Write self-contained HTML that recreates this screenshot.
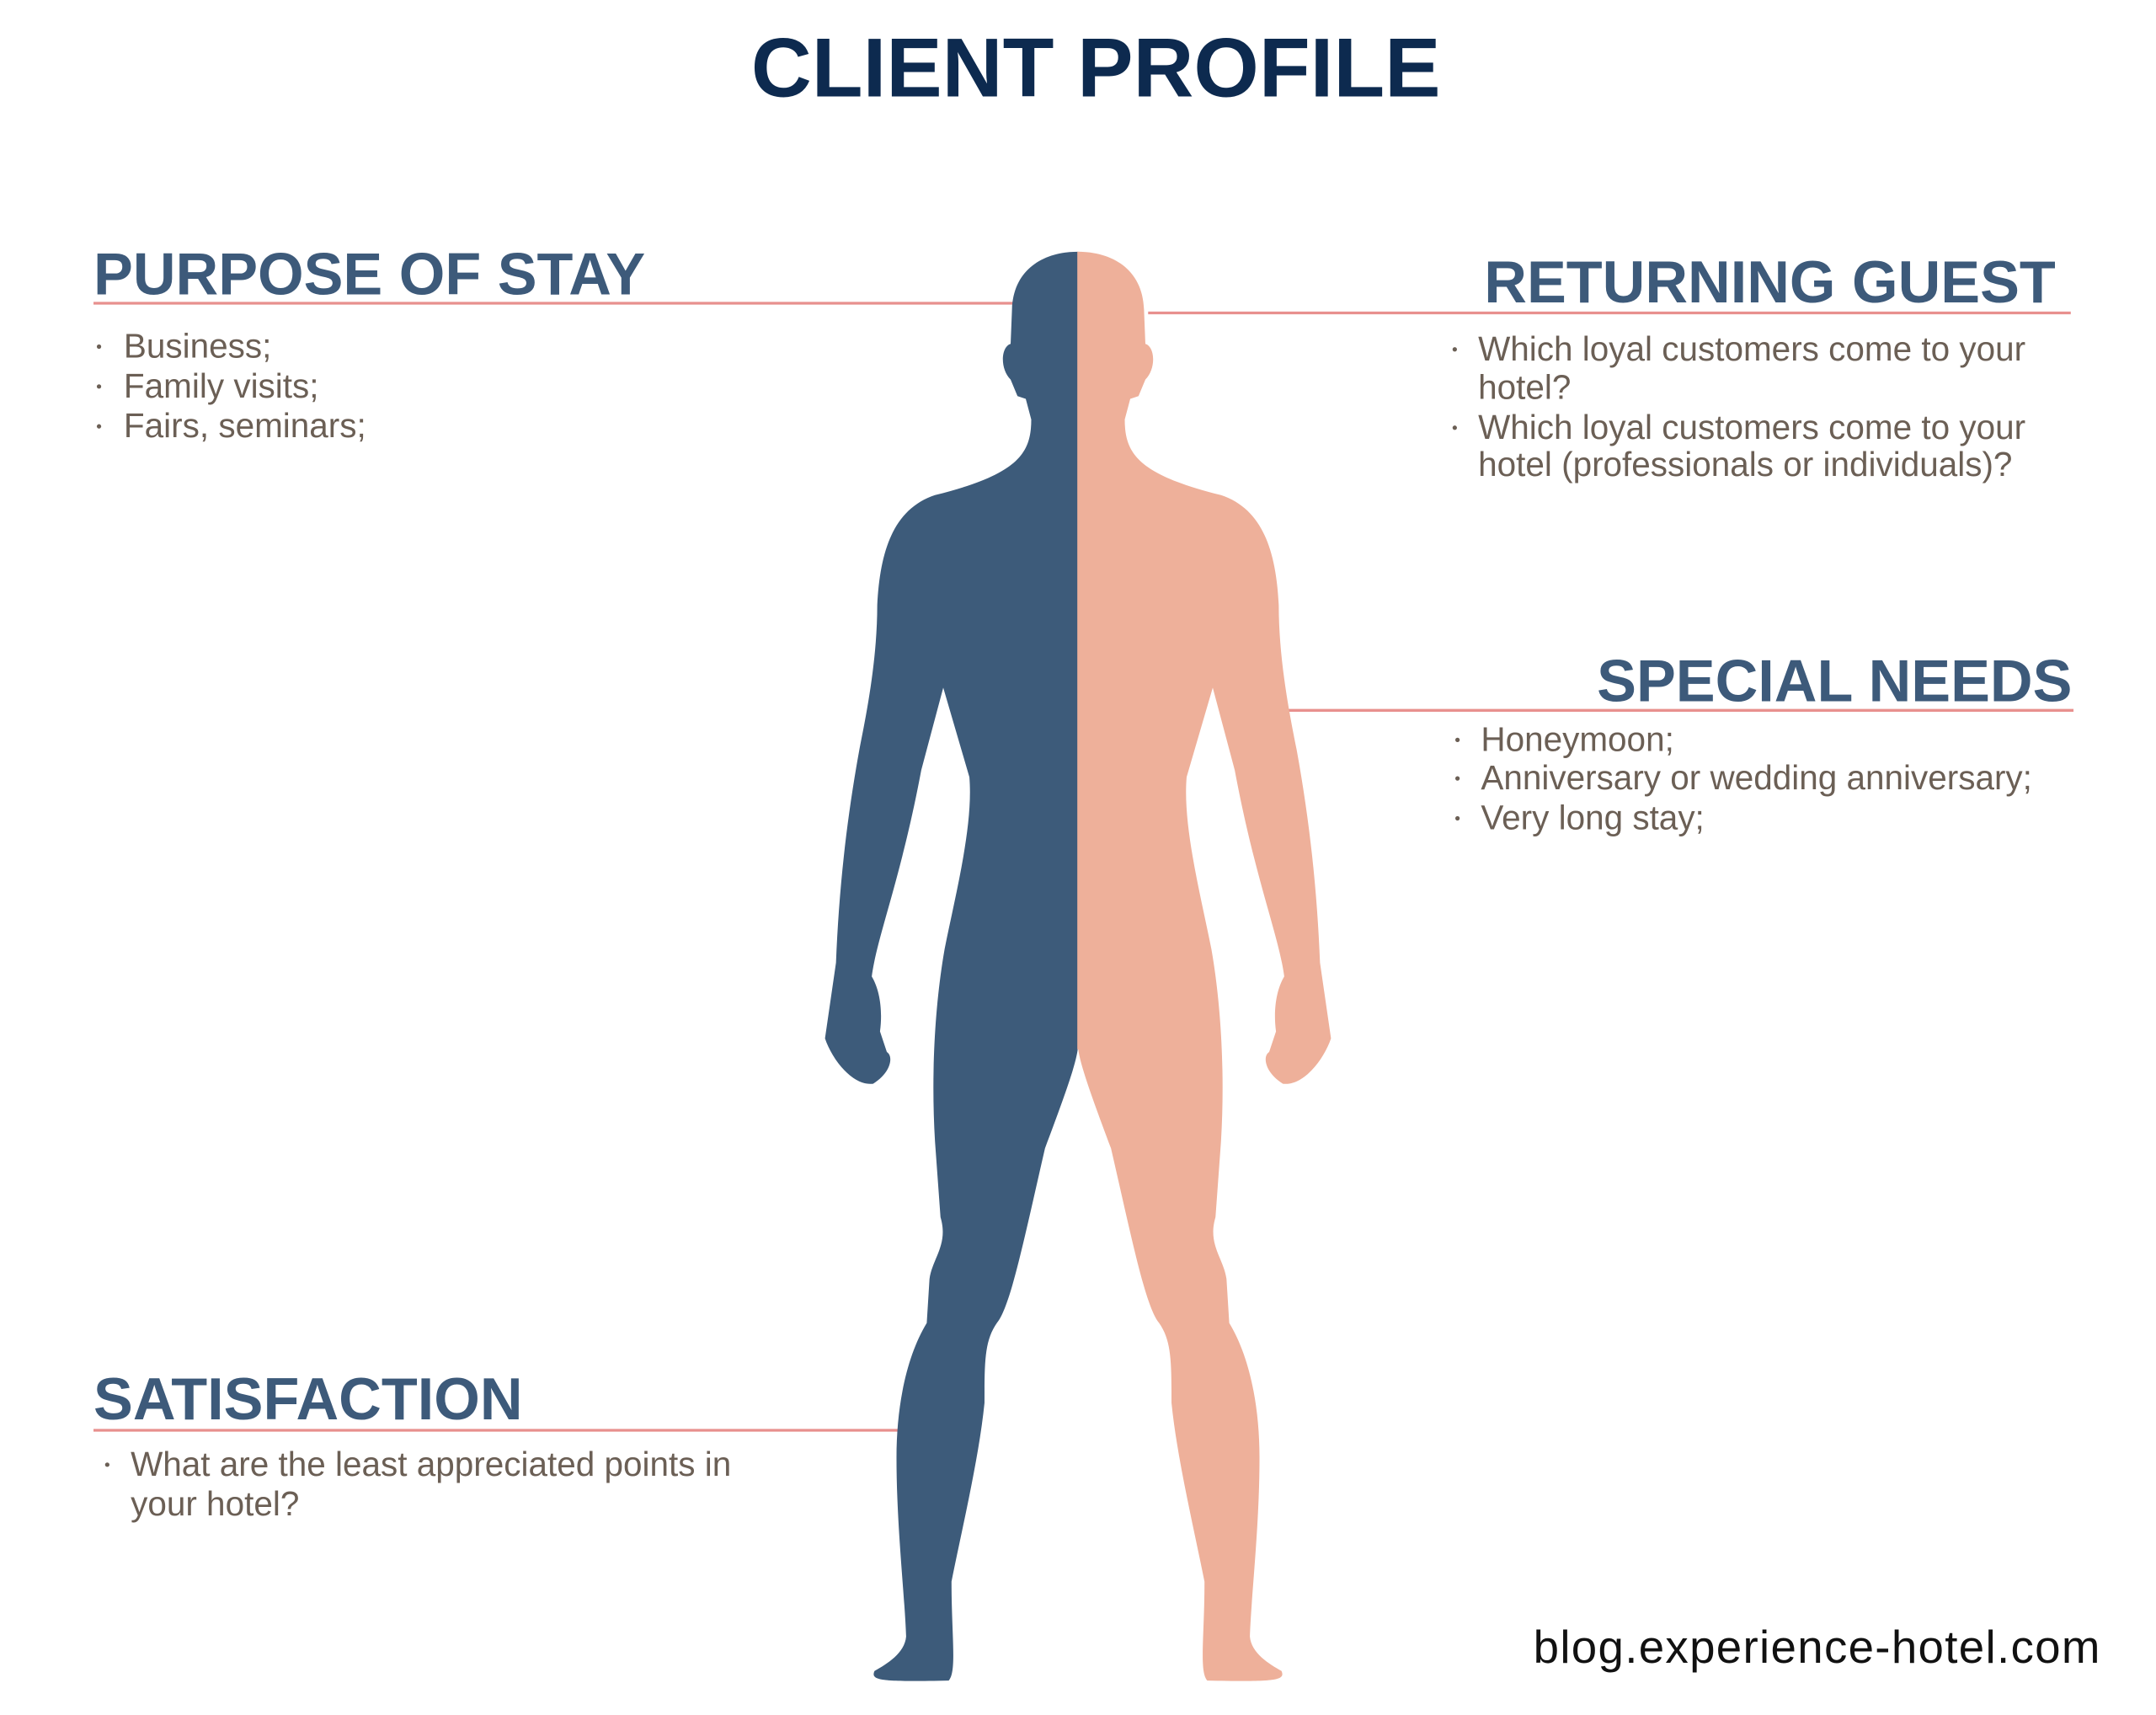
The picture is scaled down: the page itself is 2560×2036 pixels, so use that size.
<!DOCTYPE html>
<html><head><meta charset="utf-8"><style>
html,body{margin:0;padding:0;background:#fff;}
svg{display:block;}
</style></head><body>
<svg width="2560" height="2036" viewBox="0 0 1568 1247" xmlns="http://www.w3.org/2000/svg">
<rect width="1568" height="1247" fill="#fff"/>
<g font-family="Liberation Sans, Arial, sans-serif">
<text x="797" y="70" text-anchor="middle" font-size="61" font-weight="bold" fill="#0d2a4f">CLIENT PROFILE</text>

<text x="68" y="214" font-size="43" font-weight="bold" fill="#3d5a7a">PURPOSE OF STAY</text>
<line x1="68" y1="220.5" x2="740" y2="220.5" stroke="#e8908e" stroke-width="2"/>
<g font-size="24.8" fill="#6b5f55">
<text x="90" y="260">Business;</text>
<text x="90" y="289">Family visits;</text>
<text x="90" y="318">Fairs, seminars;</text>
</g>
<g fill="#6b5f55"><circle cx="72" cy="252" r="1.6"/><circle cx="72" cy="281" r="1.6"/><circle cx="72" cy="310" r="1.6"/></g>

<text x="1495" y="220" text-anchor="end" font-size="43" font-weight="bold" fill="#3d5a7a">RETURNING GUEST</text>
<line x1="835" y1="227.5" x2="1506" y2="227.5" stroke="#e8908e" stroke-width="2"/>
<g font-size="24.8" fill="#6b5f55">
<text x="1075" y="262">Which loyal customers come to your</text>
<text x="1075" y="290">hotel?</text>
<text x="1075" y="319">Which loyal customers come to your</text>
<text x="1075" y="346">hotel (professionals or individuals)?</text>
</g>
<g fill="#6b5f55"><circle cx="1058" cy="254" r="1.6"/><circle cx="1058" cy="311" r="1.6"/></g>

<text x="1507" y="510" text-anchor="end" font-size="43" font-weight="bold" fill="#3d5a7a">SPECIAL NEEDS</text>
<line x1="933" y1="516.5" x2="1508" y2="516.5" stroke="#e8908e" stroke-width="2"/>
<g font-size="24.8" fill="#6b5f55">
<text x="1077" y="546">Honeymoon;</text>
<text x="1077" y="574">Anniversary or wedding anniversary;</text>
<text x="1077" y="603">Very long stay;</text>
</g>
<g fill="#6b5f55"><circle cx="1060" cy="538" r="1.6"/><circle cx="1060" cy="566" r="1.6"/><circle cx="1060" cy="595" r="1.6"/></g>

<text x="68" y="1032" font-size="43" font-weight="bold" fill="#3d5a7a">SATISFACTION</text>
<line x1="68" y1="1040" x2="656" y2="1040" stroke="#e8908e" stroke-width="2"/>
<g font-size="24.8" fill="#6b5f55">
<text x="95" y="1073">What are the least appreciated points in</text>
<text x="95" y="1102">your hotel?</text>
</g>
<circle cx="78" cy="1065" r="1.6" fill="#6b5f55"/>

<text x="1528" y="1209" text-anchor="end" font-size="33.5" fill="#111" letter-spacing="0.8">blog.experience-hotel.com</text>
</g>

<defs>
<path id="half" d="M784,183 C760,183 737,195 736,225 L735,250 C728,252 727,268 735,276 L740,288 L746,290 L750,305 C750,330 740,345 680,360 C650,370 640,400 638,440 C638,480 630,520 625,545 C615,600 610,650 608,700 L600,755 C605,770 620,790 635,788 C648,780 650,768 645,765 L640,750 C642,735 640,720 634,710 C638,680 655,640 670,560 L686,500 L705,565 C708,600 695,650 687,690 C680,730 677,780 680,830 L684,885 C690,905 678,915 676,930 L674,962 C660,985 652,1020 652,1060 C652,1110 658,1160 659,1190 C658,1202 645,1210 636,1215 C633,1222 640,1223 690,1222 C696,1215 692,1190 692,1150 C700,1110 712,1060 716,1020 C716,990 716,975 725,962 C735,950 745,900 760,835 C775,795 784,770 784,760 Z"/>
</defs>
<use href="#half" fill="#3d5b7a"/>
<use href="#half" fill="#eeb09a" transform="translate(1568,0) scale(-1,1)"/>
<rect x="783.5" y="183" width="1.5" height="580" fill="#eeb09a"/>
</svg>
</body></html>
